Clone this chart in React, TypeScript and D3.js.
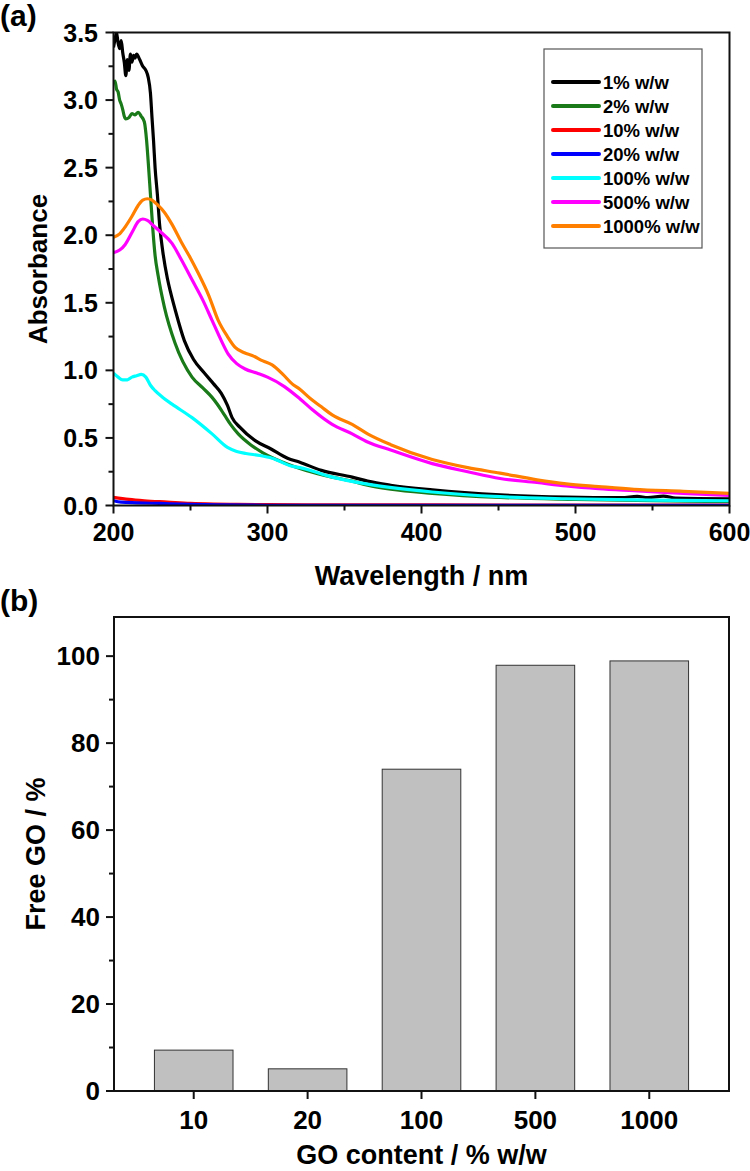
import React from "react";
import * as d3 from "d3";

// ---------- Panel (a) data: UV-vis spectra (wavelength nm, absorbance) ----------
const seriesLabels = ["1% w/w", "2% w/w", "10% w/w", "20% w/w", "100% w/w", "500% w/w", "1000% w/w"];
const seriesColors = ["#000000", "#1a7a1a", "#ff0000", "#0000ff", "#00ffff", "#ff00ff", "#ff8000"];

const s1: [number, number][] = [
  [200, 3.39], [201, 3.45], [202, 3.5], [203, 3.42], [204, 3.38], [205, 3.44], [206, 3.35], [207, 3.28],
  [208, 3.18], [209, 3.3], [210, 3.22], [211, 3.34], [212, 3.28], [213, 3.33], [214, 3.31], [215, 3.34],
  [217, 3.3], [219, 3.25], [221, 3.22], [222.5, 3.17], [224, 3.05], [225, 2.87], [226, 2.7], [227, 2.5],
  [228.5, 2.3], [230, 2.07], [232, 1.88], [235, 1.68], [237, 1.58], [240, 1.45], [246, 1.22], [252, 1.08],
  [259, 0.98], [265, 0.9], [270, 0.83], [274, 0.74], [277, 0.65], [282, 0.58], [292, 0.48], [302, 0.42],
  [313, 0.35], [321, 0.32], [335, 0.26], [355, 0.21], [365, 0.18], [380, 0.15], [407, 0.115], [451, 0.078],
  [494, 0.062], [530, 0.058], [540, 0.068], [547, 0.058], [557, 0.07], [565, 0.055], [600, 0.05],
];
const s2: [number, number][] = [
  [200, 3.12], [201, 3.14], [202, 3.08], [203, 3.06], [204, 3.0], [205, 2.97], [206, 2.93], [207, 2.88],
  [208, 2.86], [210, 2.87], [212, 2.9], [214, 2.89], [216, 2.91], [218, 2.88], [220, 2.84], [221.5, 2.7],
  [222.5, 2.55], [224, 2.3], [225.5, 2.05], [227, 1.85], [229, 1.7], [233, 1.47], [240, 1.2], [251, 0.95],
  [258, 0.87], [264, 0.8], [268, 0.74], [272, 0.67], [276, 0.6], [281, 0.53], [289, 0.45], [297, 0.39],
  [310, 0.32], [325, 0.26], [342, 0.21], [355, 0.18], [365, 0.15], [380, 0.12], [407, 0.09], [451, 0.06],
  [500, 0.045], [550, 0.035], [600, 0.03],
];
const s10: [number, number][] = [
  [200, 0.06], [210, 0.045], [220, 0.035], [235, 0.025], [250, 0.015], [265, 0.01], [280, 0.008],
  [300, 0.006], [350, 0.005], [410, 0.004], [600, 0.003],
];
const s20: [number, number][] = [
  [200, 0.035], [205, 0.025], [215, 0.02], [230, 0.015], [250, 0.008], [270, 0.004], [300, 0.002], [600, 0.002],
];
const s100: [number, number][] = [
  [200, 0.98], [203, 0.95], [206, 0.93], [209, 0.93], [212, 0.95], [215, 0.96], [218, 0.97], [221, 0.95],
  [224, 0.89], [227, 0.85], [232, 0.8], [238, 0.75], [251, 0.65], [264, 0.53], [274, 0.43], [280, 0.4],
  [286, 0.385], [295, 0.37], [303, 0.35], [316, 0.29], [321, 0.28], [342, 0.21], [364, 0.16], [407, 0.1],
  [451, 0.065], [494, 0.05], [550, 0.04], [600, 0.035],
];
const s500: [number, number][] = [
  [200, 1.87], [204, 1.89], [207.5, 1.93], [212, 2.02], [216, 2.1], [219, 2.12], [222, 2.11], [226, 2.07],
  [231, 2.02], [238, 1.94], [244, 1.82], [251, 1.67], [258, 1.52], [264, 1.37], [270, 1.22], [274.5, 1.12],
  [280, 1.05], [285.5, 1.01], [293, 0.98], [300, 0.95], [311, 0.88], [321, 0.79], [329, 0.71], [342, 0.6],
  [355, 0.53], [365, 0.47], [380, 0.41], [407, 0.31], [430, 0.25], [451, 0.2], [475, 0.17], [494, 0.145],
  [515, 0.125], [538, 0.11], [570, 0.09], [600, 0.075],
];
const s1000: [number, number][] = [
  [200, 1.985], [204, 2.01], [207.5, 2.06], [212, 2.14], [216, 2.22], [219, 2.26], [222, 2.27], [225, 2.26],
  [229, 2.22], [233, 2.17], [238, 2.08], [244, 1.95], [250, 1.83], [255, 1.72], [262, 1.55], [268, 1.37],
  [274, 1.25], [279, 1.17], [285, 1.13], [290, 1.11], [297, 1.07], [303, 1.04], [310, 0.97], [316, 0.9],
  [321, 0.86], [328, 0.79], [335, 0.73], [342, 0.67], [355, 0.6], [365, 0.53], [380, 0.45], [407, 0.34],
  [430, 0.28], [451, 0.24], [475, 0.19], [494, 0.16], [515, 0.14], [538, 0.12], [570, 0.105], [600, 0.09],
];
const spectra = [s1, s2, s10, s20, s100, s500, s1000];

const xTicksA = [200, 300, 400, 500, 600];
const yTicksA = [0, 0.5, 1.0, 1.5, 2.0, 2.5, 3.0, 3.5];

// ---------- Panel (b) data ----------
const categories = ["10", "20", "100", "500", "1000"];
const freeGO = [9.4, 5.1, 74, 97.9, 98.9];
const yTicksB = [0, 20, 40, 60, 80, 100];

const FONT = "'Liberation Sans', Arial, Helvetica, sans-serif";

export default function App() {
  // Panel (a) geometry
  const aL = 113.5, aR = 729.5, aT = 32.5, aB = 505.5;
  const xA = d3.scaleLinear().domain([200, 600]).range([aL, aR]);
  const yA = d3.scaleLinear().domain([0, 3.5]).range([aB, aT]);
  const line = d3.line<[number, number]>().x((d) => xA(d[0])).y((d) => yA(d[1])).curve(d3.curveMonotoneX);
  const xMinorA = d3.range(200, 601, 50).filter((v) => v % 100 !== 0);
  const yMinorA = d3.range(0.25, 3.5, 0.5);

  // Panel (b) geometry
  const bL = 114, bR = 729, bT = 617, bB = 1091;
  const xB = d3.scaleLinear().domain([0.3, 5.7]).range([bL, bR]);
  const yB = d3.scaleLinear().domain([0, 109]).range([bB, bT]);
  const barW = xB(0.69) - xB(0);
  const yMinorB = d3.range(10, 101, 20);

  const legendY = (i: number) => 82 + i * 24;

  return (
    <svg width={750} height={1171} style={{ display: "block", position: "absolute", left: 0, top: 0 }} fontFamily={FONT}>
      <rect x={0} y={0} width={750} height={1171} fill="#fff" />
      <defs>
        <clipPath id="clipA">
          <rect x={aL} y={aT} width={aR - aL} height={aB - aT} />
        </clipPath>
      </defs>

      {/* ===== Panel (a) ===== */}
      <text x={0} y={26} fontSize={30} fontWeight="bold">(a)</text>
      <g clipPath="url(#clipA)">
        {spectra.map((s, i) => (
          <path key={i} d={line(s) || ""} fill="none" stroke={seriesColors[i]} strokeWidth={3.2} strokeLinejoin="round" />
        ))}
      </g>
      <rect x={aL} y={aT} width={aR - aL} height={aB - aT} fill="none" stroke="#111" strokeWidth={2} />
      {xTicksA.map((t) => (
        <g key={"xa" + t}>
          <line x1={xA(t)} x2={xA(t)} y1={aB} y2={aB + 8} stroke="#111" strokeWidth={2} />
          <text x={xA(t)} y={541} textAnchor="middle" fontSize={25} fontWeight="bold">{t}</text>
        </g>
      ))}
      {xMinorA.map((t) => (
        <line key={"xma" + t} x1={xA(t)} x2={xA(t)} y1={aB} y2={aB + 5} stroke="#111" strokeWidth={2} />
      ))}
      {yTicksA.map((t) => (
        <g key={"ya" + t}>
          <line x1={aL - 8} x2={aL} y1={yA(t)} y2={yA(t)} stroke="#111" strokeWidth={2} />
          <text x={98} y={yA(t) + 9} textAnchor="end" fontSize={25} fontWeight="bold">{t.toFixed(1)}</text>
        </g>
      ))}
      {yMinorA.map((t) => (
        <line key={"yma" + t} x1={aL - 5} x2={aL} y1={yA(t)} y2={yA(t)} stroke="#111" strokeWidth={2} />
      ))}
      <text x={(aL + aR) / 2} y={585} textAnchor="middle" fontSize={27} fontWeight="bold">Wavelength / nm</text>
      <text transform={`translate(47, ${(aT + aB) / 2}) rotate(-90)`} textAnchor="middle" fontSize={26} fontWeight="bold">Absorbance</text>

      {/* legend */}
      <rect x={544} y={49} width={158} height={199} fill="#fff" stroke="#555" strokeWidth={1.2} />
      {seriesLabels.map((lab, i) => (
        <g key={lab}>
          <line x1={553} x2={599} y1={legendY(i)} y2={legendY(i)} stroke={seriesColors[i]} strokeWidth={4} strokeLinecap="round" />
          <text x={603} y={legendY(i) + 6.5} fontSize={18.5} fontWeight="bold">{lab}</text>
        </g>
      ))}

      {/* ===== Panel (b) ===== */}
      <text x={0} y={611} fontSize={30} fontWeight="bold">(b)</text>
      {freeGO.map((v, i) => (
        <rect key={categories[i]} x={xB(i + 1) - barW / 2} y={yB(v)} width={barW} height={bB - yB(v)} fill="#c0c0c0" stroke="#333" strokeWidth={1} />
      ))}
      <rect x={bL} y={bT} width={bR - bL} height={bB - bT} fill="none" stroke="#111" strokeWidth={2} />
      {categories.map((c, i) => (
        <g key={"xb" + c}>
          <line x1={xB(i + 1)} x2={xB(i + 1)} y1={bB} y2={bB + 8} stroke="#111" strokeWidth={2} />
          <text x={xB(i + 1)} y={1129} textAnchor="middle" fontSize={26} fontWeight="bold">{c}</text>
        </g>
      ))}
      {yTicksB.map((t) => (
        <g key={"yb" + t}>
          <line x1={bL - 8} x2={bL} y1={yB(t)} y2={yB(t)} stroke="#111" strokeWidth={2} />
          <text x={100} y={yB(t) + 9} textAnchor="end" fontSize={26} fontWeight="bold">{t}</text>
        </g>
      ))}
      {yMinorB.map((t) => (
        <line key={"ymb" + t} x1={bL - 5} x2={bL} y1={yB(t)} y2={yB(t)} stroke="#111" strokeWidth={2} />
      ))}
      <text x={(bL + bR) / 2} y={1164} textAnchor="middle" fontSize={27} fontWeight="bold">GO content / % w/w</text>
      <text transform={`translate(45, ${(bT + bB) / 2}) rotate(-90)`} textAnchor="middle" fontSize={27} fontWeight="bold">Free GO / %</text>
    </svg>
  );
}
